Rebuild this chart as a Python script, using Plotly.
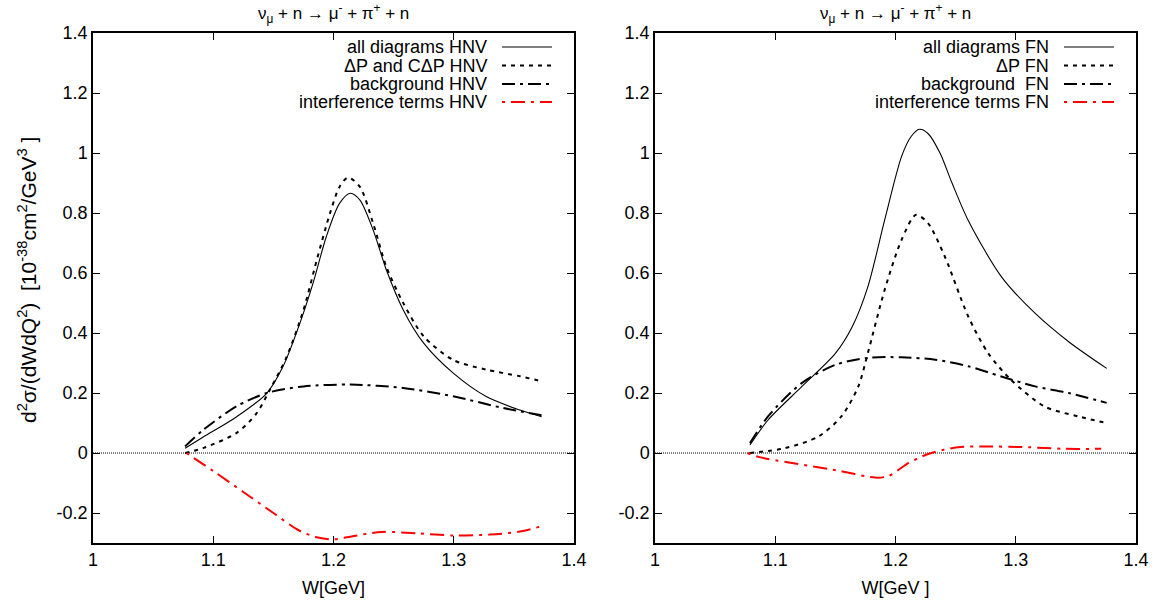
import plotly.graph_objects as go

# ---------------- data ----------------
W_all_L = [1.0766, 1.092, 1.1195, 1.1445, 1.158, 1.172, 1.183, 1.194, 1.205, 1.214, 1.222, 1.233, 1.244, 1.258, 1.275, 1.2996, 1.327, 1.355, 1.373]
all_HNV = [0.016, 0.054, 0.121, 0.199, 0.288, 0.432, 0.566, 0.721, 0.832, 0.866, 0.843, 0.743, 0.61, 0.477, 0.366, 0.266, 0.188, 0.143, 0.121]

W_dp_L = [1.0766, 1.092, 1.1195, 1.136, 1.147, 1.161, 1.175, 1.186, 1.197, 1.205, 1.212, 1.222, 1.233, 1.244, 1.258, 1.275, 1.2996, 1.327, 1.355, 1.373]
dp_HNV = [0.0, 0.017, 0.067, 0.132, 0.21, 0.32, 0.476, 0.642, 0.798, 0.887, 0.918, 0.887, 0.765, 0.62, 0.5, 0.389, 0.31, 0.278, 0.256, 0.239]

W_bg_L = [1.0766, 1.092, 1.1195, 1.1445, 1.175, 1.214, 1.258, 1.2996, 1.341, 1.373]
bg_HNV = [0.022, 0.078, 0.156, 0.2, 0.222, 0.228, 0.217, 0.189, 0.15, 0.126]

W_int_L = [1.0776, 1.1, 1.125, 1.15, 1.17, 1.185, 1.2, 1.215, 1.24, 1.27, 1.3, 1.33, 1.355, 1.373]
int_HNV = [0.0, -0.06, -0.13, -0.2, -0.255, -0.28, -0.288, -0.278, -0.263, -0.268, -0.275, -0.272, -0.262, -0.244]

W_all_R = [1.079, 1.094, 1.122, 1.15, 1.164, 1.177, 1.191, 1.205, 1.213, 1.22, 1.227, 1.237, 1.247, 1.2605, 1.288, 1.316, 1.344, 1.3756]
all_FN = [0.027, 0.11, 0.221, 0.332, 0.421, 0.554, 0.777, 0.988, 1.055, 1.079, 1.065, 1.0, 0.9, 0.775, 0.588, 0.466, 0.371, 0.282]

W_dp_R = [1.079, 1.108, 1.136, 1.155, 1.169, 1.177, 1.191, 1.205, 1.217, 1.227, 1.241, 1.2605, 1.277, 1.296, 1.324, 1.352, 1.3756]
dp_FN = [0.0, 0.016, 0.055, 0.122, 0.221, 0.333, 0.544, 0.71, 0.794, 0.766, 0.655, 0.455, 0.333, 0.244, 0.155, 0.122, 0.1]

W_bg_R = [1.079, 1.094, 1.122, 1.15, 1.177, 1.205, 1.233, 1.2605, 1.288, 1.316, 1.344, 1.3756]
bg_FN = [0.033, 0.122, 0.233, 0.294, 0.317, 0.319, 0.311, 0.289, 0.255, 0.222, 0.2, 0.167]

W_int_R = [1.077, 1.086, 1.154, 1.183, 1.194, 1.211, 1.226, 1.24, 1.254, 1.271, 1.311, 1.34, 1.371]
int_FN = [0.0, -0.013, -0.06, -0.082, -0.077, -0.033, -0.005, 0.011, 0.02, 0.022, 0.019, 0.014, 0.014]

x_ticks = [1.0, 1.1, 1.2, 1.3, 1.4]
x_ticktext = ["1", "1.1", "1.2", "1.3", "1.4"]
y_ticks = [-0.2, 0.0, 0.2, 0.4, 0.6, 0.8, 1.0, 1.2, 1.4]
y_ticktext = ["-0.2", "0", "0.2", "0.4", "0.6", "0.8", "1", "1.2", "1.4"]

legend_L = ["all diagrams HNV", "ΔP and CΔP HNV", "background HNV", "interference terms HNV"]
legend_R = ["all diagrams FN", "ΔP FN", "background  FN", "interference terms FN"]

title_txt = "ν<sub>μ</sub> + n → μ<sup>-</sup> + π<sup>+</sup> + n"
ytitle = "d<sup>2</sup>σ/(dWdQ<sup>2</sup>)  [10<sup>-38</sup>cm<sup>2</sup>/GeV<sup>3</sup> ]"

# ---------------- styles ----------------
W_PX, H_PX = 1163, 605
FONT = "Liberation Sans, Arial, Helvetica, sans-serif"
FS = 18
styles = [
    dict(color="black", width=1.1, dash="solid"),
    dict(color="black", width=2, dash="4px,5px"),
    dict(color="black", width=2, dash="13px,5px,3px,5px"),
    dict(color="#ff0000", width=2, dash="3px,6px,14px,6px"),
]

fig = go.Figure()

def add(x, y, st, xa, ya):
    fig.add_trace(go.Scatter(x=x, y=y, mode="lines", xaxis=xa, yaxis=ya,
                             line=dict(color=st["color"], width=st["width"], dash=st["dash"],
                                       shape="spline", smoothing=0.8),
                             showlegend=False, hoverinfo="skip"))

left = [(W_all_L, all_HNV), (W_dp_L, dp_HNV), (W_bg_L, bg_HNV), (W_int_L, int_HNV)]
right = [(W_all_R, all_FN), (W_dp_R, dp_FN), (W_bg_R, bg_FN), (W_int_R, int_FN)]
for (x, y), st in zip(left, styles):
    add(x, y, st, "x", "y")
for (x, y), st in zip(right, styles):
    add(x, y, st, "x2", "y2")

dom_y = [1 - 543 / H_PX, 1 - 33 / H_PX]
dom_xL = [93 / W_PX, 574 / W_PX]
dom_xR = [655 / W_PX, 1136 / W_PX]

axis_common = dict(ticks="inside", ticklen=7, tickwidth=1, tickcolor="black",
                   showline=True, linecolor="black", linewidth=1.5, mirror="allticks",
                   showgrid=False, zeroline=False, automargin=False,
                   tickfont=dict(family=FONT, size=FS, color="black"))

def xax(dom, anchor, title):
    d = dict(axis_common)
    d.update(domain=dom, anchor=anchor, range=[1.0, 1.4], tickvals=x_ticks, ticktext=x_ticktext,
             title=dict(text=title, font=dict(family=FONT, size=FS, color="black"), standoff=12))
    return d

def yax(anchor):
    d = dict(axis_common)
    d.update(domain=dom_y, anchor=anchor, range=[-0.3, 1.4], tickvals=y_ticks, ticktext=y_ticktext)
    return d

fig.update_layout(
    width=W_PX, height=H_PX,
    margin=dict(l=0, r=0, t=0, b=0),
    paper_bgcolor="white", plot_bgcolor="white",
    font=dict(family=FONT, size=FS, color="black"),
    xaxis=xax(dom_xL, "y", "W[GeV]"),
    yaxis=yax("x"),
    xaxis2=xax(dom_xR, "y2", "W[GeV ]"),
    yaxis2=yax("x2"),
)

# zero lines (dotted)
for xr, yr in [("x domain", "y"), ("x2 domain", "y2")]:
    fig.add_shape(type="line", xref=xr, yref=yr, x0=0, x1=1, y0=0, y1=0,
                  line=dict(color="black", width=1, dash="1px,1px"), layer="below")

# titles
for cx in [(93 + 574) / 2 / W_PX, (655 + 1136) / 2 / W_PX]:
    fig.add_annotation(text=title_txt, xref="paper", yref="paper", x=cx, y=1 - 13 / H_PX,
                       xanchor="center", yanchor="middle", showarrow=False,
                       font=dict(family=FONT, size=17, color="black"))

# y-axis title
fig.add_annotation(text=ytitle, xref="paper", yref="paper", x=27 / W_PX, y=1 - 280 / H_PX,
                   xanchor="center", yanchor="middle", textangle=-90, showarrow=False,
                   font=dict(family=FONT, size=21, color="black"))

# custom legends (text right, sample line on the right)
rows_y = [47, 65.5, 84, 102]
for labels, text_right, l0, l1 in [(legend_L, 489, 502, 552), (legend_R, 1051, 1064, 1114)]:
    for lab, ry, st in zip(labels, rows_y, styles):
        fig.add_annotation(text=lab, xref="paper", yref="paper", x=text_right / W_PX, y=1 - ry / H_PX,
                           xanchor="right", yanchor="middle", showarrow=False,
                           font=dict(family=FONT, size=FS, color="black"))
        fig.add_shape(type="line", xref="paper", yref="paper", x0=l0 / W_PX, x1=l1 / W_PX,
                      y0=1 - ry / H_PX, y1=1 - ry / H_PX,
                      line=dict(color=st["color"], width=st["width"], dash=st["dash"]))

fig.write_html("out.html")
